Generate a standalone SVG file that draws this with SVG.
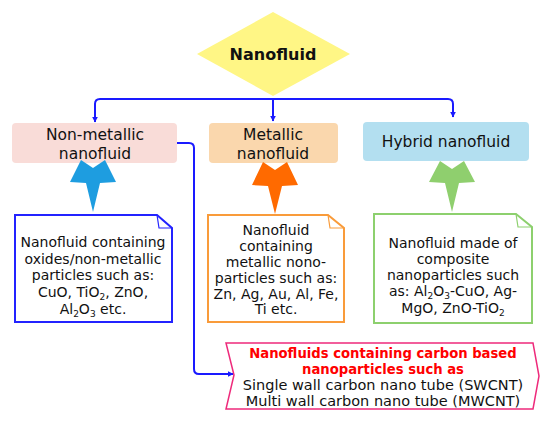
<svg xmlns="http://www.w3.org/2000/svg" width="550" height="421" viewBox="0 0 550 421">
<defs>
<style>
text{font-family:"DejaVu Sans","Liberation Sans",sans-serif;fill:#111;text-anchor:middle}
.h{font-size:15.5px}
.b{font-size:14px}
.c{font-size:14.5px}
.r{font-size:13.2px;font-weight:bold;fill:#ff0000}
.sub{font-size:9px}
.conn{fill:none;stroke:#1a1aff;stroke-width:2}
.note{stroke-width:2}
</style>
<marker id="ah" viewBox="0 0 10 10" refX="9" refY="5" markerWidth="6" markerHeight="6" orient="auto-start-reverse" markerUnits="userSpaceOnUse">
<path d="M0,0 L10,5 L0,10 Z" fill="#1a1aff"/>
</marker>
</defs>
<rect width="550" height="421" fill="#fff"/>

<g id="connectors">
<path class="conn" d="M95,122 V104 Q95,99 100,99 H448 Q453,99 453,104 V117" marker-end="url(#ah)"/>
<path class="conn" d="M95,105 V122" marker-end="url(#ah)"/>
<path class="conn" d="M273,99 V121" marker-end="url(#ah)"/>
<path class="conn" d="M177,143 H189 Q194,143 194,148 V369 Q194,374 199,374 H233" marker-end="url(#ah)"/>
</g>

<g id="nanofluid">
<polygon points="273,12 350,54 273,96 197,54" fill="#fff685"/>
<text x="273" y="60" style="font-size:16px;font-weight:bold">Nanofluid</text>
</g>

<g id="nonmetallic">
<rect x="12" y="123" width="165" height="40" rx="4" fill="#f9dcd8"/>
<text class="h" x="95" y="140">Non-metallic</text>
<text class="h" x="95" y="159">nanofluid</text>
</g>

<g id="metallic">
<rect x="209" y="123" width="129" height="40" rx="4" fill="#fad7ad"/>
<text class="h" x="273" y="140">Metallic</text>
<text class="h" x="273" y="159">nanofluid</text>
</g>

<g id="hybrid">
<rect x="363" y="122" width="166" height="39" rx="4" fill="#b3dff0"/>
<text class="h" x="446" y="147">Hybrid nanofluid</text>
</g>

<g id="arrow-blue">
<polygon points="81,160 93,168 105,160 116,182 100,183 93,212 86,183 70,182" fill="#1e9de0"/>
</g>
<g id="arrow-orange">
<polygon points="263,162 275,170 287,162 298,185 282,186 275,214 268,186 252,185" fill="#ff6a00"/>
</g>
<g id="arrow-green">
<polygon points="440,161 452,169 464,161 475,182 459,183 452,212 445,183 429,182" fill="#8fcf6e"/>
</g>

<g id="note-nonmetallic">
<path class="note" d="M15,215 H157 L172,228 V322 H15 Z" fill="#fff" stroke="#2323ff"/>
<path d="M157,215 L159,228 H172" fill="none" stroke="#2323ff" stroke-width="1.2"/>
<text class="b" x="93" y="247">Nanofluid containing</text>
<text class="b" x="93" y="264">oxides/non-metallic</text>
<text class="b" x="93" y="280">particles such as:</text>
<text class="b" x="93" y="297">CuO, TiO<tspan class="sub" dy="2.5">2</tspan><tspan dy="-2.5">, ZnO,</tspan></text>
<text class="b" x="93" y="314">Al<tspan class="sub" dy="2.5">2</tspan><tspan dy="-2.5">O</tspan><tspan class="sub" dy="2.5">3</tspan><tspan dy="-2.5"> etc.</tspan></text>
</g>

<g id="note-metallic">
<path class="note" d="M208,215 H328 L344,228 V322 H208 Z" fill="#fff" stroke="#f99b3a"/>
<path d="M328,215 L330,228 H344" fill="none" stroke="#f99b3a" stroke-width="1.2"/>
<text class="b" x="276" y="235">Nanofluid</text>
<text class="b" x="276" y="251">containing</text>
<text class="b" x="276" y="267">metallic nono-</text>
<text class="b" x="276" y="283">particles such as:</text>
<text class="b" x="276" y="299">Zn, Ag, Au, Al, Fe,</text>
<text class="b" x="276" y="314">Ti etc.</text>
</g>

<g id="note-hybrid">
<path class="note" d="M374,214 H516 L532,227 V323 H374 Z" fill="#fff" stroke="#8dd06e"/>
<path d="M516,214 L518,227 H532" fill="none" stroke="#8dd06e" stroke-width="1.2"/>
<text class="b" x="453" y="248">Nanofluid made of</text>
<text class="b" x="453" y="264">composite</text>
<text class="b" x="453" y="280">nanoparticles such</text>
<text class="b" x="453" y="296">as: Al<tspan class="sub" dy="2.5">2</tspan><tspan dy="-2.5">O</tspan><tspan class="sub" dy="2.5">3</tspan><tspan dy="-2.5">-CuO, Ag-</tspan></text>
<text class="b" x="453" y="313">MgO, ZnO-TiO<tspan class="sub" dy="2.5">2</tspan></text>
</g>

<g id="carbon">
<polygon points="226,343 533,343 539,376 533,409 226,409 234,375" fill="#fff" stroke="#ee2a7b" stroke-width="1.5"/>
<text class="r" x="383" y="358">Nanofluids containing carbon based</text>
<text class="r" x="383" y="374">nanoparticles such as</text>
<text class="c" x="383" y="390">Single wall carbon nano tube (SWCNT)</text>
<text class="c" x="383" y="406">Multi wall carbon nano tube (MWCNT)</text>
</g>
</svg>
